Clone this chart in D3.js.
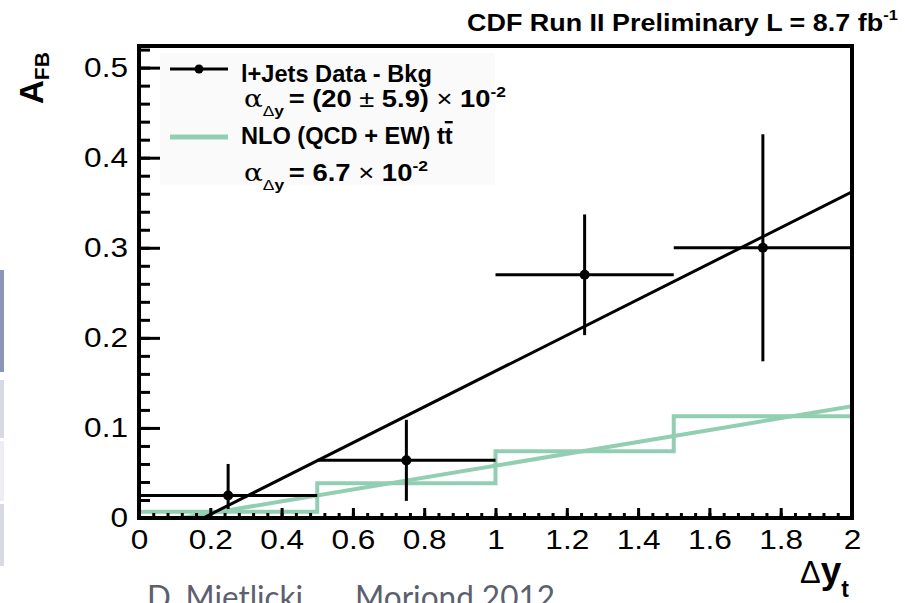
<!DOCTYPE html>
<html>
<head>
<meta charset="utf-8">
<script src="https://cdn.jsdelivr.net/npm/d3@7"></script>
<style>
body { margin: 0; background: #fff; }
text { font-family: "Liberation Sans", Arial, Helvetica, sans-serif; }
</style>
</head>
<body>
<div id="chart"></div>
<script>
// values
var binEdges = [0, 0.5, 1.0, 1.5, 2.0];
var dataY = [0.025, 0.064, 0.270, 0.300];
var dataErrUp = [0.035, 0.045, 0.067, 0.126];
var dataErrDown = [0.015, 0.045, 0.067, 0.126];
var nloY = [0.007, 0.0385, 0.074, 0.113];
var dataFitX = [0.18, 2.0];
var dataFitY = [0.0, 0.362];
var nloFitX = [0.12, 2.0];
var nloFitY = [0.0, 0.124];
var xTicks = [0, 0.2, 0.4, 0.6, 0.8, 1, 1.2, 1.4, 1.6, 1.8, 2];
var yTicks = [0, 0.1, 0.2, 0.3, 0.4, 0.5];

var W = 905, H = 603;
var green = '#92cfb2';
var plot = { left: 139, right: 852, top: 46, bottom: 518 };

var svg = d3.select('#chart').append('svg')
  .attr('width', W).attr('height', H);

var x = d3.scaleLinear().domain([0, 2]).range([plot.left, plot.right]);
var y = d3.scaleLinear().domain([0, 0.524]).range([plot.bottom, plot.top]);

// stretch text horizontally around its own x
var stretch = function(sel, sx) {
  sel.each(function() {
    var tx = +this.getAttribute('x') || 0;
    this.setAttribute('transform', 'translate(' + tx + ',0) scale(' + sx + ',1) translate(' + (-tx) + ',0)');
  });
};
var fitWidth = function(sel, w) {
  stretch(sel, w / sel.node().getBBox().width);
};

// slide leftovers on the left edge and the footer
var strips = [[270, 372, '#8a96b8'], [380, 438, '#d8dae3'], [441, 501, '#eceef2'], [504, 566, '#d8dae3']];
svg.selectAll('rect.strip').data(strips).enter().append('rect')
  .attr('class', 'strip')
  .attr('x', 0).attr('width', 4)
  .attr('y', function(d) { return d[0]; })
  .attr('height', function(d) { return d[1] - d[0]; })
  .attr('fill', function(d) { return d[2]; });

svg.append('text').attr('x', 147).attr('y', 609)
  .style('font-family', 'Lato').style('font-size', '32px').attr('fill', '#5c5f6f')
  .attr('textLength', 156).attr('lengthAdjust', 'spacingAndGlyphs')
  .text('D. Mietlicki');
svg.append('text').attr('x', 355).attr('y', 609)
  .style('font-family', 'Lato').style('font-size', '32px').attr('fill', '#5c5f6f')
  .attr('textLength', 200).attr('lengthAdjust', 'spacingAndGlyphs')
  .text('Moriond 2012');

svg.append('clipPath').attr('id', 'clip').append('rect')
  .attr('x', plot.left).attr('y', plot.top)
  .attr('width', plot.right - plot.left).attr('height', plot.bottom - plot.top);

var g = svg.append('g').attr('clip-path', 'url(#clip)');

// NLO histogram (step) and its fit
var steps = nloY.map(function(v, i) { return [binEdges[i], v]; });
steps.push([binEdges[binEdges.length - 1], nloY[nloY.length - 1]]);
var line = d3.line().x(function(d) { return x(d[0]); }).y(function(d) { return y(d[1]); });

g.append('path').attr('d', line.curve(d3.curveStepAfter)(steps))
  .attr('fill', 'none').attr('stroke', green).attr('stroke-width', 4);
line.curve(d3.curveLinear);
g.append('path').attr('d', line(nloFitX.map(function(v, i) { return [v, nloFitY[i]]; })))
  .attr('fill', 'none').attr('stroke', green).attr('stroke-width', 4);

// data fit
g.append('path').attr('d', line(dataFitX.map(function(v, i) { return [v, dataFitY[i]]; })))
  .attr('fill', 'none').attr('stroke', '#000').attr('stroke-width', 3);

// data points with error bars
var pts = g.selectAll('g.pt').data(dataY).enter().append('g').attr('class', 'pt');
pts.append('line')
  .attr('x1', function(d, i) { return x(binEdges[i]); })
  .attr('x2', function(d, i) { return x(binEdges[i + 1]); })
  .attr('y1', function(d) { return y(d); })
  .attr('y2', function(d) { return y(d); })
  .attr('stroke', '#000').attr('stroke-width', 3);
pts.append('line')
  .attr('x1', function(d, i) { return x((binEdges[i] + binEdges[i + 1]) / 2); })
  .attr('x2', function(d, i) { return x((binEdges[i] + binEdges[i + 1]) / 2); })
  .attr('y1', function(d, i) { return y(d - dataErrDown[i]); })
  .attr('y2', function(d, i) { return y(d + dataErrUp[i]); })
  .attr('stroke', '#000').attr('stroke-width', 3);
pts.append('circle')
  .attr('cx', function(d, i) { return x((binEdges[i] + binEdges[i + 1]) / 2); })
  .attr('cy', function(d) { return y(d); })
  .attr('r', 5).attr('fill', '#000');

// axes, ticks pointing inward
var fmt = d3.format('~g');
var xAxis = svg.append('g').attr('transform', 'translate(0,' + plot.bottom + ')')
  .call(d3.axisBottom(x).tickValues(xTicks).tickFormat(fmt).tickSizeInner(-10).tickSizeOuter(0).tickPadding(12));
svg.append('g').attr('transform', 'translate(0,' + plot.bottom + ')')
  .call(d3.axisBottom(x).tickValues(d3.range(0, 2.001, 0.04)).tickFormat('').tickSizeInner(-5).tickSizeOuter(0))
  .select('.domain').remove();
var yAxis = svg.append('g').attr('transform', 'translate(' + plot.left + ',0)')
  .call(d3.axisLeft(y).tickValues(yTicks).tickFormat(fmt).tickSizeInner(-21).tickSizeOuter(0).tickPadding(11));
svg.append('g').attr('transform', 'translate(' + plot.left + ',0)')
  .call(d3.axisLeft(y).tickValues(d3.range(0, 0.521, 0.02)).tickFormat('').tickSizeInner(-11).tickSizeOuter(0))
  .select('.domain').remove();

svg.selectAll('.tick line').attr('stroke', '#000').attr('stroke-width', 3);
svg.selectAll('.tick text').attr('fill', '#000').style('font-size', '27px');
stretch(xAxis.selectAll('.tick text'), 1.17);
stretch(yAxis.selectAll('.tick text'), 1.17);

// frame
svg.append('rect')
  .attr('x', plot.left).attr('y', plot.top)
  .attr('width', plot.right - plot.left).attr('height', plot.bottom - plot.top)
  .attr('fill', 'none').attr('stroke', '#000').attr('stroke-width', 4);

// title, stretched to the reference width
var title = svg.append('text').attr('x', 467).attr('y', 31)
  .style('font-weight', 'bold').style('font-size', '24.5px');
title.append('tspan').text('CDF Run II Preliminary L = 8.7 fb');
title.append('tspan').attr('dy', -11).style('font-size', '15px').text('-1');
fitWidth(title, 431);

// axis titles
var yTitle = svg.append('text').attr('transform', 'translate(43,104) rotate(-90)')
  .style('font-weight', 'bold').style('font-size', '33px');
yTitle.append('tspan').text('A');
yTitle.append('tspan').attr('dy', 6).style('font-size', '21px').text('FB');

var xTitle = svg.append('text').attr('x', 800).attr('y', 583)
  .style('font-size', '31px');
xTitle.append('tspan').text('\u0394');
xTitle.append('tspan').style('font-weight', 'bold').style('font-size', '37px').text('y');
xTitle.append('tspan').attr('dy', 14).style('font-weight', 'bold').style('font-size', '23px').text('t');

// legend
var leg = svg.append('g');
leg.append('rect').attr('x', 160).attr('y', 53).attr('width', 335).attr('height', 132).attr('fill', '#fafafa');
leg.append('line').attr('x1', 170).attr('x2', 228).attr('y1', 69).attr('y2', 69)
  .attr('stroke', '#000').attr('stroke-width', 3);
leg.append('circle').attr('cx', 199).attr('cy', 69).attr('r', 4.5).attr('fill', '#000');
leg.append('line').attr('x1', 170).attr('x2', 228).attr('y1', 137).attr('y2', 137)
  .attr('stroke', green).attr('stroke-width', 5);

leg.append('text').attr('x', 241).attr('y', 82)
  .style('font-weight', 'bold').style('font-size', '23.6px').text('l+Jets Data - Bkg');
leg.append('text').attr('x', 241).attr('y', 144)
  .style('font-weight', 'bold').style('font-size', '23.6px')
  .html('NLO (QCD + EW) t<tspan text-decoration="overline">t</tspan>');

var alphaLine = function(yb, parts, w) {
  var t = leg.append('text').attr('x', 244).attr('y', yb).style('font-size', '23.6px');
  t.append('tspan').style('font-family', '"DejaVu Serif", serif').style('font-size', '24px').text('\u03b1');
  t.append('tspan').attr('dy', 9).style('font-size', '15px').text('\u0394');
  t.append('tspan').style('font-size', '15px').style('font-weight', 'bold').text('y');
  parts.forEach(function(p, i) {
    var s = t.append('tspan').text(p.t);
    if (i === 0) s.attr('dy', -9).attr('dx', 4);
    if (p.b) s.style('font-weight', 'bold');
    if (p.sup) s.attr('dy', -10).style('font-size', '15px');
  });
  fitWidth(t, w);
};
alphaLine(107, [
  { t: '= (20 ', b: true }, { t: '\u00b1' }, { t: ' 5.9) ', b: true }, { t: '\u00d7 ' },
  { t: '10', b: true }, { t: '-2', b: true, sup: true }
], 262);
alphaLine(181, [
  { t: '= 6.7 ', b: true }, { t: '\u00d7 ' }, { t: '10', b: true }, { t: '-2', b: true, sup: true }
], 184);
</script>
</body>
</html>
